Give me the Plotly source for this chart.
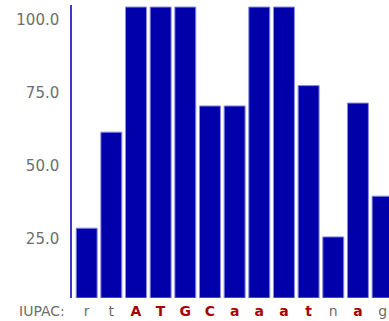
import plotly.graph_objects as go

# data
letters = ["r", "t", "A", "T", "G", "C", "a", "a", "a", "t", "n", "a", "g"]
values = [24, 57, 100, 100, 100, 66, 66, 100, 100, 73, 21, 67, 35]
conserved = [False, False, True, True, True, True, True, True, True, True, False, True, False]
y_ticks = [25, 50, 75, 100]
axis_label = "IUPAC:"

GREY = "#6e6e6e"
RED = "#aa0000"

x = list(range(len(letters)))
ticktext = [
    f'<span style="color:{RED}"><b>{l}</b></span>' if c else f'<span style="color:{GREY}">{l}</span>'
    for l, c in zip(letters, conserved)
]

fig = go.Figure(
    go.Bar(
        x=x,
        y=values,
        marker=dict(color="#0000aa", line=dict(color="#8a8ae0", width=1)),
        hoverinfo="skip",
    )
)

fig.update_layout(
    width=389,
    height=321,
    margin=dict(l=72, r=0, t=5, b=23, autoexpand=False),
    paper_bgcolor="white",
    plot_bgcolor="white",
    bargap=0.15,
    showlegend=False,
    font=dict(family="DejaVu Sans, Verdana, sans-serif", size=15, color=GREY),
)

fig.update_xaxes(
    range=[-0.595, 12.26],
    tickvals=x,
    ticktext=ticktext,
    showgrid=False,
    zeroline=False,
    showline=False,
    ticks="",
    tickfont=dict(size=14),
    ticklabelstandoff=3,
    automargin=False,
)
fig.update_yaxes(
    range=[0, 100.7],
    tickvals=y_ticks,
    tickformat=".1f",
    showgrid=False,
    zeroline=False,
    showline=True,
    linecolor="#3c3ccc",
    linewidth=1.5,
    ticks="",
    tickfont=dict(size=15, color=GREY),
    ticklabelshift=13,
    ticklabelstandoff=8,
    automargin=False,
)

fig.add_annotation(
    text=axis_label,
    xref="paper",
    yref="paper",
    x=0,
    y=0,
    xshift=-5,
    yshift=-3,
    xanchor="right",
    yanchor="top",
    showarrow=False,
    font=dict(size=14, color=GREY),
)

fig.write_html("out.html")
